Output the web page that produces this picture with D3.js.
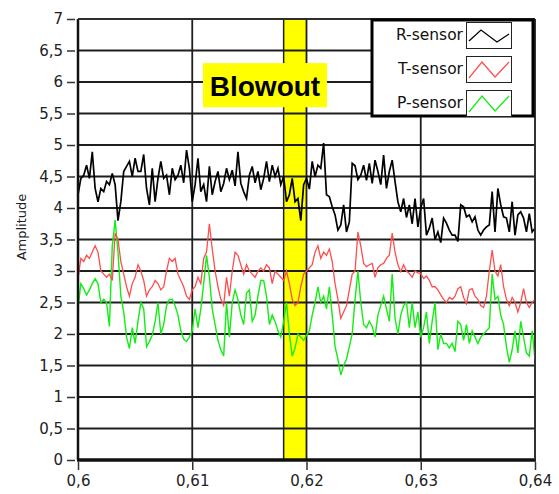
<!DOCTYPE html>
<html><head><meta charset="utf-8">
<script src="https://cdn.jsdelivr.net/npm/d3@7"></script>
<style>
html,body{margin:0;padding:0;background:#fff;}
svg{display:block;}
text{font-family:"DejaVu Sans",Verdana,sans-serif;}
</style></head>
<body><svg id="c" width="559" height="494"></svg>
<script>
// ---- data ----
const xStart = 0.6, xStep = 0.00025;
const xTicks = [0.6, 0.61, 0.62, 0.63, 0.64];
const yTicks = [0,0.5,1,1.5,2,2.5,3,3.5,4,4.5,5,5.5,6,6.5,7];
const seriesNames = ["R-sensor","T-sensor","P-sensor"];
const seriesColors = ["#000000","#ff4d4d","#11ee11"];
const blowoutRange = [0.618, 0.620];
const blowoutLabel = "Blowout";

const rSensor = [
 4.21,4.47,4.52,4.68,4.47,4.89,4.31,4.1,4.31,4.26, 4.42,4.37,4.55,4.37,3.8,4.1,4.58,4.66,4.74,4.5,
 4.79,4.58,4.58,4.85,4.31,4.05,4.63,4.1,4.47,4.74, 4.47,4.52,4.21,
 4.63,4.45,4.52,4.68,4.4,4.92,4.63,4.1,4.37,4.79, 4.26,4.37,4.1,4.66,4.21,4.42,4.58,4.26,4.39,4.63,
 4.45,4.6,4.35,4.89,4.39,4.26,4.15,4.52,4.66,4.4, 4.58,4.29,
 4.47,4.74,4.42,4.68,4.5,4.63,4.37,4.5,4.1,4.21, 4.47,4.1,4.15,3.8,4.37,4.47,4.3,4.74,4.5,4.68,
 4.63,5.03,4.21,4.18,4.02,3.89,3.65,3.73,4.05,3.62, 3.78,4.71,
 4.67,4.45,4.52,4.68,4.44,4.71,4.39,4.76,4.58,4.37, 4.84,4.31,4.58,4.76,4.42,4.1,3.94,4.15,3.85,4.05,
 3.75,4.15,3.7,4.0,4.15,3.57,3.68,3.84,3.5,3.62, 3.45,3.84,
 3.76,3.65,3.57,3.57,3.47,4.05,4.02,3.86,3.89,3.78, 3.86,3.65,3.57,3.65,3.7,3.73,4.26,3.62,4.31,4.05,
 3.86,3.84,3.62,4.1,3.57,3.89,3.94,3.84,3.62,3.91, 3.62,3.68
];
const tSensor = [
 2.88,3.2,3.15,3.25,3.2,3.3,3.4,3.3,3.0,2.95, 2.9,2.95,2.85,3.6,3.5,3.15,2.95,2.75,2.6,2.8,
 2.9,3.1,3.0,2.85,2.6,2.7,2.75,2.85,2.8,2.7, 2.75,3.0,3.2,
 3.15,3.2,2.95,2.85,2.75,2.6,2.55,2.7,2.75,2.9, 2.8,3.2,3.3,3.75,3.35,3.0,2.75,2.55,2.45,2.9,
 2.6,3.0,3.3,3.25,3.1,2.95,3.1,3.0,2.95,2.9, 3.0,3.05,
 3.0,3.1,3.05,2.8,3.0,2.95,2.9,2.85,3.0,2.8, 2.55,2.45,2.5,2.75,2.95,3.0,3.05,3.1,3.3,3.4,
 3.2,3.3,3.25,3.35,3.15,2.8,2.55,2.25,2.35,2.45, 2.7,2.95,
 3.0,3.62,3.4,3.12,3.07,3.1,3.12,2.9,3.05,3.1, 3.12,3.2,3.25,3.6,3.3,3.1,2.99,3.1,3.0,2.96,
 2.9,3.0,2.97,2.96,2.88,2.92,2.85,2.75,2.75,2.7, 2.62,2.55,
 2.5,2.58,2.55,2.6,2.72,2.75,2.58,2.48,2.7,2.72, 2.6,2.55,2.45,2.42,2.6,3.0,3.33,3.0,2.92,3.1,
 2.75,2.55,2.45,2.58,2.5,2.35,2.5,2.72,2.5,2.42, 2.5,2.55
];
const pSensor = [
 2.41,2.8,2.72,2.62,2.7,2.8,2.88,2.8,2.5,2.55, 2.5,2.12,3.4,3.81,3.3,2.6,2.35,1.95,1.77,2.1,
 1.85,2.2,2.5,2.4,1.8,1.88,1.98,2.2,2.5,2.0, 2.15,2.45,2.55,
 2.55,2.45,2.3,2.05,1.92,1.88,1.95,2.05,2.4,2.1, 2.4,2.8,3.25,2.9,2.4,2.15,1.9,1.75,1.65,2.5,
 1.95,2.5,2.7,2.55,2.3,2.15,2.65,2.7,2.2,2.3, 2.6,2.85,
 2.85,2.6,2.15,2.3,2.2,2.05,1.95,2.2,2.5,2.0, 1.65,1.78,2.0,1.95,1.9,1.98,2.05,2.3,2.5,2.75,
 2.5,2.6,2.4,2.75,2.3,1.8,1.6,1.35,1.5,1.6, 1.8,2.0,
 2.55,3.0,2.5,2.15,2.1,2.2,2.12,1.95,2.3,2.45, 2.6,2.4,2.2,2.95,2.25,2.0,2.3,2.45,2.5,2.1,
 2.5,2.1,2.35,1.95,2.1,2.35,1.85,2.2,2.5,1.75, 2.0,1.85,
 1.85,1.78,1.85,1.72,2.2,2.15,1.9,2.15,1.85,2.05, 1.95,1.85,1.95,2.0,2.05,2.1,2.95,2.55,2.6,2.3,
 2.15,1.8,1.55,1.75,2.05,1.7,2.2,1.95,1.7,1.65, 2.05,1.6
];
const allSeries = [rSensor, tSensor, pSensor];

// ---- chart ----
const svg = d3.select("#c");
const L = 78, R = 535, T = 19, B = 460;
const x = d3.scaleLinear().domain([0.6, 0.64]).range([L, R]);
const y = d3.scaleLinear().domain([0, 7]).range([B, T]);
const fmt = d => String(d).replace(".", ",");

svg.append("defs").append("clipPath").attr("id","clip")
  .append("rect").attr("x",L).attr("y",T).attr("width",R-L).attr("height",B-T);

// blowout band
svg.append("rect").attr("x", x(blowoutRange[0])).attr("y", T)
  .attr("width", x(blowoutRange[1]) - x(blowoutRange[0])).attr("height", B - T)
  .attr("fill", "#ffff00");
svg.append("line").attr("x1", x(blowoutRange[0])).attr("x2", x(blowoutRange[0]))
  .attr("y1", T).attr("y2", B).attr("stroke", "#222").attr("stroke-width", 1.5);

// grid
const grid = svg.append("g");
grid.selectAll("line.h").data(yTicks).join("line")
  .attr("x1", L).attr("x2", R).attr("y1", d => y(d)).attr("y2", d => y(d))
  .attr("stroke", "#1e1e1e").attr("stroke-width", 1.8);
grid.selectAll("line.v").data(xTicks).join("line")
  .attr("y1", T).attr("y2", B).attr("x1", d => x(d)).attr("x2", d => x(d))
  .attr("stroke", "#1e1e1e").attr("stroke-width", 1.8);

// series
const line = d3.line().x((d, i) => x(xStart + i * xStep)).y(d => y(d));
const widths = [1.7, 1.3, 1.4];
[2, 1, 0].forEach(k => {
  svg.append("path").datum(allSeries[k]).attr("clip-path","url(#clip)")
    .attr("d", line).attr("fill", "none")
    .attr("stroke", seriesColors[k]).attr("stroke-width", widths[k])
    .attr("stroke-linejoin", "miter");
});

// frame
svg.append("line").attr("x1", L).attr("x2", L).attr("y1", T).attr("y2", B)
  .attr("stroke", "#111").attr("stroke-width", 2.5);
svg.append("line").attr("x1", L - 1).attr("x2", R + 1).attr("y1", B).attr("y2", B)
  .attr("stroke", "#111").attr("stroke-width", 3.5);
svg.append("line").attr("x1", R).attr("x2", R).attr("y1", T).attr("y2", B)
  .attr("stroke", "#333").attr("stroke-width", 1.5);
svg.append("line").attr("x1", L).attr("x2", R).attr("y1", T).attr("y2", T)
  .attr("stroke", "#333").attr("stroke-width", 1.5);

// axes
const yAxis = svg.append("g").attr("transform", `translate(${L - 3},0)`)
  .call(d3.axisLeft(y).tickValues(yTicks).tickFormat(fmt).tickSize(8).tickPadding(4));
const xAxis = svg.append("g").attr("transform", `translate(0,${B + 2})`)
  .call(d3.axisBottom(x).tickValues(xTicks).tickFormat(fmt).tickSize(8).tickPadding(5));
[yAxis, xAxis].forEach(a => {
  a.select(".domain").remove();
  a.selectAll(".tick line").attr("stroke", "#333").attr("stroke-width", 1.5);
  a.selectAll(".tick text").attr("fill", "#222").style("font-family", "DejaVu Sans, sans-serif").style("font-size", "15px");
});

svg.append("text").attr("transform", "translate(26,227) rotate(-90)")
  .attr("text-anchor", "middle").style("font-size", "13px").attr("fill", "#222")
  .text("Amplitude");

// blowout label
const lx0 = 0.61094, lx1 = 0.62179;
svg.append("rect").attr("x", x(lx0)).attr("y", y(6.3))
  .attr("width", x(lx1) - x(lx0)).attr("height", y(5.6) - y(6.3)).attr("fill", "#ffff00");
svg.append("text").attr("x", (x(lx0) + x(lx1)) / 2).attr("y", y(5.6) - 11)
  .attr("text-anchor", "middle").style("font-family", "'Liberation Sans', Arial, sans-serif")
  .style("font-weight", "bold").style("font-size", "28px").attr("fill", "#000").text(blowoutLabel);

// legend
const lg = svg.append("g");
lg.append("rect").attr("x", 372).attr("y", 20).attr("width", 161).attr("height", 96)
  .attr("fill", "#fff").attr("stroke", "#000").attr("stroke-width", 3);
seriesNames.forEach((n, i) => {
  const ry = 22 + i * 34;
  lg.append("text").attr("x", 463).attr("y", ry + 18).attr("text-anchor", "end")
    .style("font-size", "15.5px").attr("fill", "#111").text(n);
  lg.append("rect").attr("x", 466.5).attr("y", ry + 0.5).attr("width", 45).attr("height", 26)
    .attr("fill", "#fff").attr("stroke", "#222").attr("stroke-width", 1);
  const pts = i === 0
    ? [[469, 19], [481, 8], [497, 20], [509, 12]]
    : [[469, 22], [482, 6], [495, 21], [509, 6]];
  lg.append("polyline").attr("points", pts.map(p => [p[0], ry + p[1]].join(",")).join(" "))
    .attr("fill", "none").attr("stroke", seriesColors[i]).attr("stroke-width", 1.2);
});
</script></body></html>
